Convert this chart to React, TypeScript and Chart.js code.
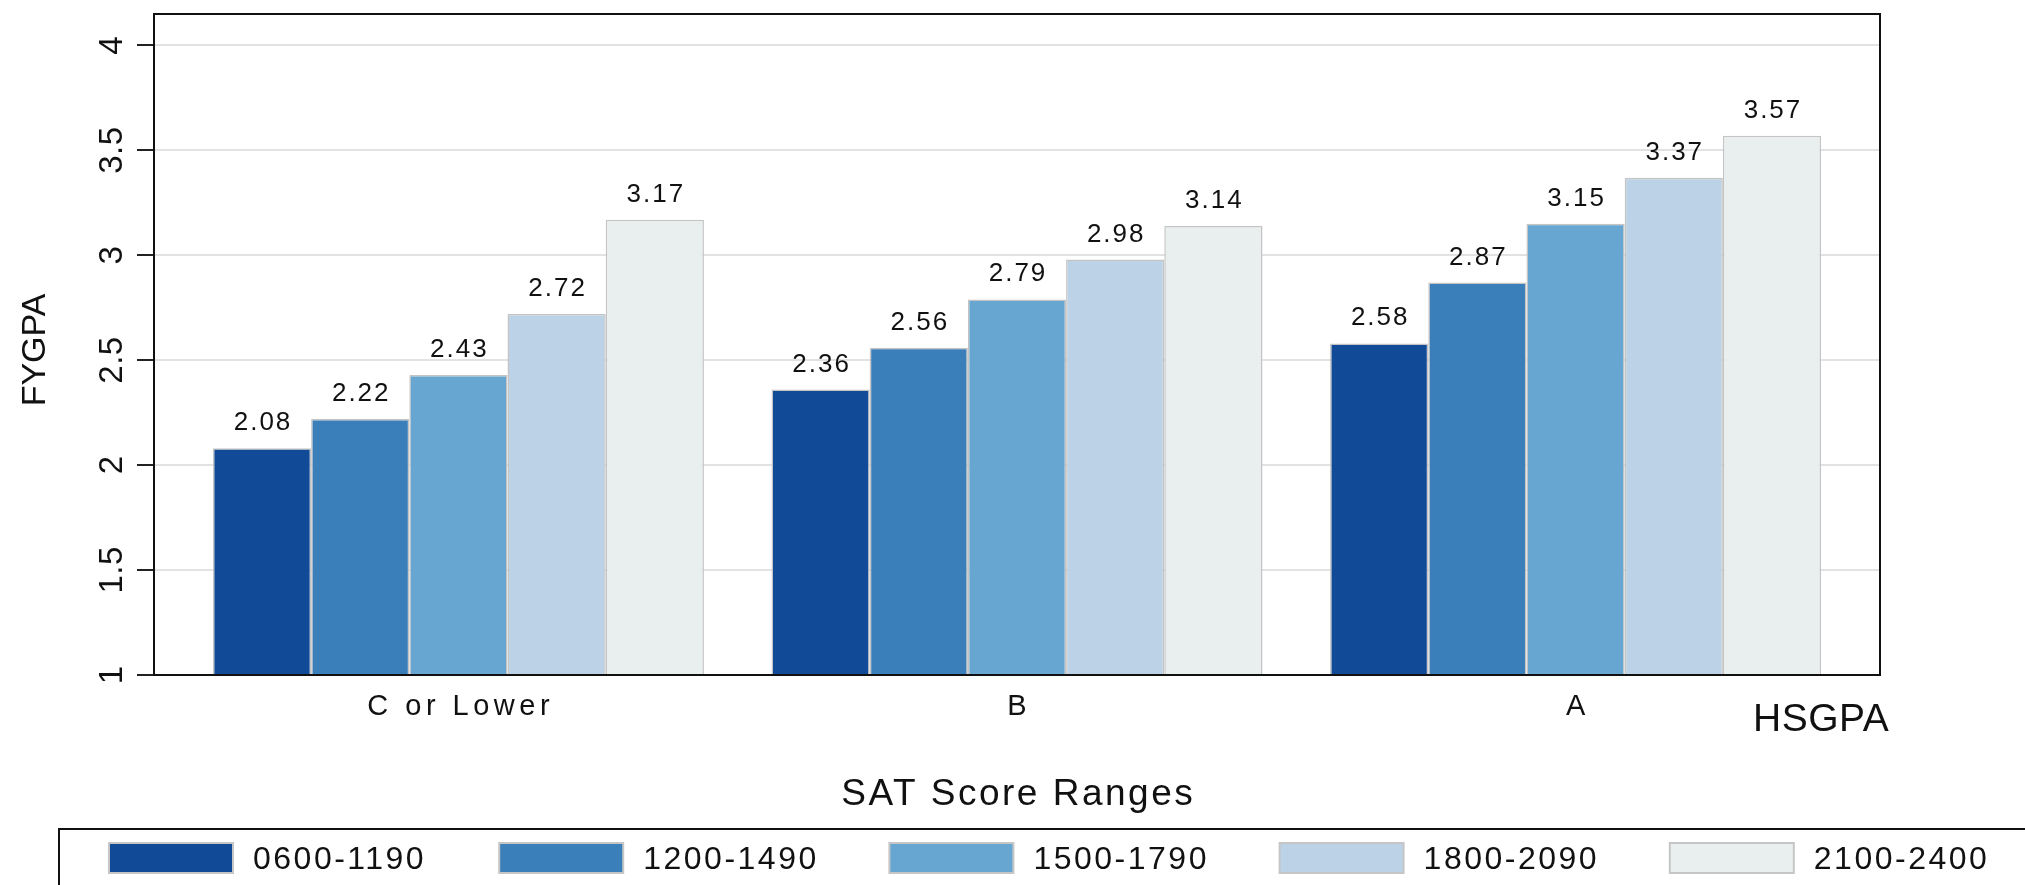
import React, { useEffect, useRef } from "react";
import { Chart, registerables } from "chart.js";

Chart.register(...registerables);

// ---- data ----
const categories = ["C or Lower", "B", "A"];
const categoryPositions = [1, 2, 3];
const seriesNames = ["0600-1190", "1200-1490", "1500-1790", "1800-2090", "2100-2400"];
const series0600 = [2.08, 2.36, 2.58];
const series1200 = [2.22, 2.56, 2.87];
const series1500 = [2.43, 2.79, 3.15];
const series1800 = [2.72, 2.98, 3.37];
const series2100 = [3.17, 3.14, 3.57];
const seriesValues = [series0600, series1200, series1500, series1800, series2100];
const seriesColors = ["#114A96", "#3A7FBA", "#66A6D1", "#BCD2E6", "#E9EFEF"];
const yTicks = [1, 1.5, 2, 2.5, 3, 3.5, 4];
const yAxisTitle = "FYGPA";
const xAxisTitle = "SAT Score Ranges";
const groupAxisTitle = "HSGPA";

const FONT = "'Liberation Sans', Arial, Helvetica, sans-serif";
const TEXT = "#111";

function drawText(
  ctx: CanvasRenderingContext2D,
  s: string,
  x: number,
  y: number,
  size: number,
  align: CanvasTextAlign,
  spacing: number
) {
  ctx.save();
  ctx.font = `${size}px ${FONT}`;
  ctx.fillStyle = TEXT;
  ctx.textAlign = align;
  ctx.textBaseline = "alphabetic";
  (ctx as any).letterSpacing = `${spacing}px`;
  let dx = 0;
  if (align === "center") dx = spacing / 2;
  else if (align === "right") dx = spacing;
  ctx.fillText(s, x + dx, y);
  ctx.restore();
}

const decorPlugin = {
  id: "decor",
  afterDraw(chart: any) {
    const ctx: CanvasRenderingContext2D = chart.ctx;
    const area = chart.chartArea;
    const xScale = chart.scales.x;
    const yScale = chart.scales.y;

    // plot frame
    ctx.save();
    ctx.strokeStyle = "#111";
    ctx.lineWidth = 2;
    ctx.strokeRect(area.left, area.top, area.right - area.left, area.bottom - area.top);
    ctx.restore();

    // value labels
    chart.data.datasets.forEach((ds: any, di: number) => {
      const meta = chart.getDatasetMeta(di);
      meta.data.forEach((el: any, i: number) => {
        const v = seriesValues[di][i];
        drawText(ctx, v.toFixed(2), el.x, el.y - 18, 26, "center", 2);
      });
    });

    // category labels
    categories.forEach((c, i) => {
      const px = xScale.getPixelForValue(categoryPositions[i]);
      drawText(ctx, c, px, area.bottom + 40, 29, "center", 4.5);
    });

    // y tick labels (rotated)
    yTicks.forEach((v) => {
      const py = yScale.getPixelForValue(v);
      ctx.save();
      ctx.translate(area.left - 32, py);
      ctx.rotate(-Math.PI / 2);
      drawText(ctx, String(v), 0, 0, 33, "center", 0.5);
      ctx.restore();
    });

    // y axis title
    ctx.save();
    ctx.translate(45, 350);
    ctx.rotate(-Math.PI / 2);
    drawText(ctx, yAxisTitle, 0, 0, 34, "center", 0);
    ctx.restore();

    // group axis title & x title
    drawText(ctx, groupAxisTitle, 1753, 731, 39, "left", 0.5);
    drawText(ctx, xAxisTitle, 1017, 805, 37, "center", 2.5);

    // legend box
    ctx.save();
    ctx.strokeStyle = "#111";
    ctx.lineWidth = 2;
    ctx.beginPath();
    ctx.moveTo(59, 900);
    ctx.lineTo(59, 829);
    ctx.lineTo(2040, 829);
    ctx.stroke();
    ctx.restore();

    seriesNames.forEach((name, i) => {
      const sx = 109 + i * 390.2;
      ctx.save();
      ctx.fillStyle = seriesColors[i];
      ctx.fillRect(sx, 843, 124, 30);
      ctx.strokeStyle = "#c6c6c6";
      ctx.lineWidth = 2;
      ctx.strokeRect(sx, 843, 124, 30);
      ctx.restore();
      drawText(ctx, name, sx + 144, 869, 32, "left", 2.5);
    });
  },
};

export default function App() {
  const ref = useRef<HTMLCanvasElement | null>(null);

  useEffect(() => {
    if (!ref.current) return;
    const datasets = seriesNames.map((name, si) => ({
      label: name,
      data: seriesValues[si].map((v, i) => ({ x: categoryPositions[i], y: v })),
      backgroundColor: seriesColors[si],
      borderColor: "#c4c4c4",
      borderWidth: 1.5,
      categoryPercentage: 0.879,
      barPercentage: 1.0,
    }));

    const chart = new Chart(ref.current, {
      type: "bar",
      data: { datasets },
      options: {
        responsive: false,
        maintainAspectRatio: false,
        animation: false,
        layout: { padding: { left: 8, top: 14, right: 145, bottom: 210 } },
        plugins: {
          legend: { display: false },
          tooltip: { enabled: false },
        },
        scales: {
          x: {
            type: "linear",
            offset: false,
            min: 0.455,
            max: 3.545,
            afterBuildTicks: (s: any) => {
              s.ticks = categoryPositions.map((v) => ({ value: v }));
            },
            grid: { display: false, drawTicks: false, offset: false },
            border: { display: true, color: "#111", width: 2 },
            ticks: { display: false },
            afterFit: (s: any) => {
              s.height = 0;
            },
          },
          y: {
            type: "linear",
            min: 1,
            max: 4.15,
            afterBuildTicks: (s: any) => {
              s.ticks = yTicks.map((v) => ({ value: v }));
            },
            grid: {
              color: "#e2e2e2",
              lineWidth: 2,
              drawTicks: true,
              tickLength: 17,
              tickColor: "#222",
              tickWidth: 2,
            },
            border: { display: true, color: "#111", width: 2 },
            ticks: { display: false },
            afterFit: (s: any) => {
              s.width = 146;
            },
          },
        },
      } as any,
      plugins: [decorPlugin],
    });
    return () => chart.destroy();
  }, []);

  return (
    <div style={{ position: "absolute", left: 0, top: 0, width: 2025, height: 885, background: "#fff" }}>
      <canvas ref={ref} width={2025} height={885} style={{ display: "block" }} />
    </div>
  );
}
